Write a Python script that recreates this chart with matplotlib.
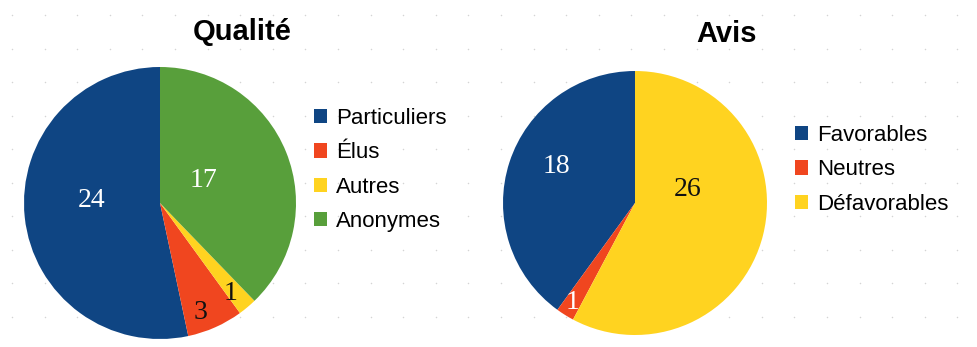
import numpy as np
import matplotlib
matplotlib.use("Agg")
import matplotlib.pyplot as plt
from matplotlib.patches import Patch

W, H = 978, 347
fig = plt.figure(figsize=(W / 100, H / 100), dpi=100)
fig.patch.set_facecolor("white")

# --- data ---
q_labels = ["Particuliers", "Élus", "Autres", "Anonymes"]
q_values = [24, 3, 1, 17]
q_colors = ["#0f4583", "#f0461f", "#ffd320", "#589f3b"]
q_label_colors = ["white", "#111111", "#111111", "white"]

a_labels = ["Favorables", "Neutres", "Défavorables"]
a_values = [18, 1, 26]
a_colors = ["#0f4583", "#f0461f", "#ffd320"]
a_label_colors = ["white", "white", "#111111"]

# label placement (style): radial distance fraction and angular shift (deg)
q_label_dist = [0.50, 0.86, 0.84, 0.36]
q_label_shift = [-8, -4, -2, 5]
a_label_dist = [0.66, 0.89, 0.41]
a_label_shift = [-7, 0, 28]

# faint dotted background grid
bg = fig.add_axes([0, 0, 1, 1], zorder=-5)
bg.set_xlim(0, W); bg.set_ylim(H, 0); bg.axis("off")
gx, gy = np.meshgrid(np.arange(12, W, 32.6), np.arange(15, H, 33.5))
bg.scatter(gx.ravel(), gy.ravel(), s=1.2, color="#d4d4d4", linewidths=0)


def draw_pie(cx, cy, r, values, colors, lcolors, ldist, lshift):
    ax = fig.add_axes([(cx - r) / W, (H - cy - r) / H, 2 * r / W, 2 * r / H])
    wedges, _ = ax.pie(values, colors=colors, startangle=90, counterclock=True,
                       radius=1.0, wedgeprops=dict(linewidth=0))
    for w, v, c, d, s in zip(wedges, values, lcolors, ldist, lshift):
        ang = np.deg2rad((w.theta1 + w.theta2) / 2 + s)
        ax.text(d * np.cos(ang), d * np.sin(ang), str(v), ha="center", va="center",
                color=c, fontsize=20, family="Liberation Serif")
    ax.set_xlim(-1, 1); ax.set_ylim(-1, 1); ax.set_aspect("equal")
    ax.axis("off")
    return ax


ax1 = draw_pie(160, 203, 136, q_values, q_colors, q_label_colors, q_label_dist, q_label_shift)
ax2 = draw_pie(635, 203, 132, a_values, a_colors, a_label_colors, a_label_dist, a_label_shift)

fig.text(242 / W, 1 - 32 / H, "Qualité", ha="center", va="center",
         fontsize=21, fontweight="bold", family="Liberation Sans")
fig.text(727 / W, 1 - 34 / H, "Avis", ha="center", va="center",
         fontsize=21, fontweight="bold", family="Liberation Sans")


def add_legend(ax, labels, colors, x, ytop):
    handles = [Patch(facecolor=c, edgecolor="none") for c in colors]
    leg = ax.legend(handles, labels, loc="upper left",
                    bbox_to_anchor=(x / W, 1 - ytop / H), bbox_transform=fig.transFigure,
                    frameon=False, prop=dict(family="Liberation Sans", size=16),
                    handlelength=0.6, handleheight=0.6, handletextpad=0.4,
                    labelspacing=0.60, borderpad=0, borderaxespad=0)
    return leg


add_legend(ax1, q_labels, q_colors, 314, 108)
add_legend(ax2, a_labels, a_colors, 795, 125)

fig.savefig("out.png", dpi=100, facecolor="white")
